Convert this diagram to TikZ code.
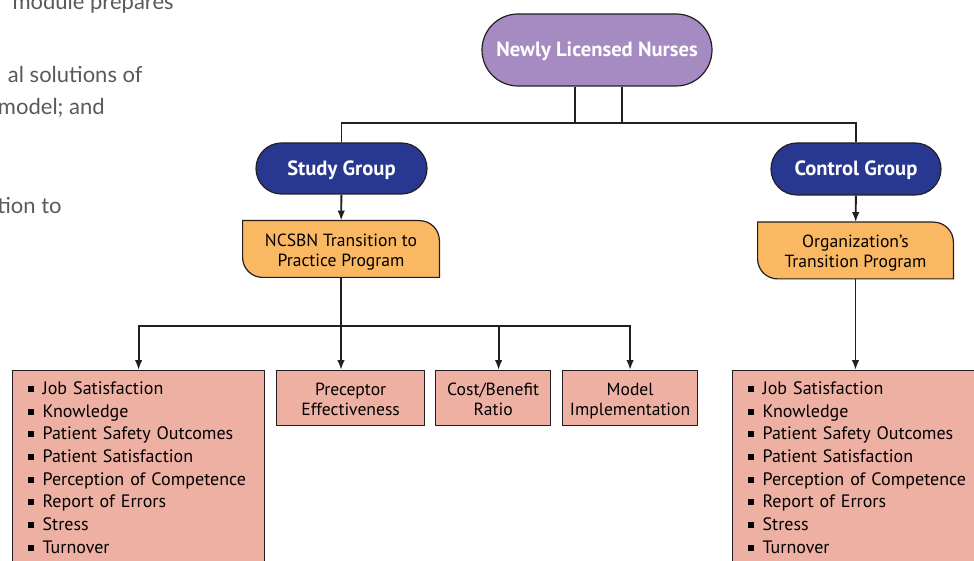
\documentclass[tikz,border=0pt]{standalone}
\usepackage{fontspec}
\setmainfont{PT Sans}
\newfontfamily\pagefont{Lato}
\usetikzlibrary{positioning,arrows.meta,shapes.misc,backgrounds}
\definecolor{tpnewly}{HTML}{A68AC2}
\definecolor{tpgroup}{HTML}{283891}
\definecolor{tpprog}{HTML}{FBB862}
\definecolor{tpout}{HTML}{EDB0A3}
\definecolor{tpline}{HTML}{231F20}
\definecolor{tppage}{HTML}{58595B}
\newcommand{\tpitem}{\rule[1.3pt]{3pt}{3pt}\hspace{4.5pt}}
\newcommand{\tptop}{\rule{0pt}{9.5pt}}
\newcommand{\tpbot}{\rule[-2pt]{0pt}{2pt}}
\newcommand{\tpprogbox}[1]{%
  \filldraw[draw=tpline, fill=tpprog, line width=0.6pt]
    (#1.north west) -- ([xshift=-10pt]#1.north east)
    arc[start angle=90, end angle=0, radius=10pt] -- (#1.south east)
    -- ([xshift=10pt]#1.south west)
    arc[start angle=270, end angle=180, radius=10pt] -- cycle;
}

\begin{document}
\begin{tikzpicture}[x=0.5pt, y=-0.5pt, font=\fontsize{8.8}{10}\selectfont,
  link/.style={draw=tpline, line width=0.95pt},
  arr/.style={link, -{Latex[length=5pt, width=3.8pt]}},
  pill/.style={rounded rectangle, draw=tpline, line width=0.6pt, text=white,
    inner sep=0pt, text depth=0.5pt, font=\fontsize{10.3}{12}\selectfont\bfseries},
  prog/.style={minimum width=98pt, minimum height=28pt, align=center, inner sep=0pt},
  outbox/.style={draw=tpline, fill=tpout, line width=0.6pt, align=center,
    anchor=north west, minimum height=27.5pt, inner sep=0pt},
  listbox/.style={outbox, align=left, text width=111pt, inner xsep=7.5pt,
    inner ysep=5.5pt, font=\fontsize{9}{11.35}\selectfont},
  pagetext/.style={anchor=base east, inner sep=0pt, text=tppage,
    font=\pagefont\fontsize{11}{12}\selectfont}]
  \useasboundingbox (0,0) rectangle (974,561);
  \clip (0,0) rectangle (974,561);
  % page text cut off at the left
  \node[pagetext] (pg1) at (174,10) {module prepares};
  \node[pagetext] (pg2) at (143,83) {al solutions of};
  \node[pagetext] (pg3) at (105,115) {model; and};
  \node[pagetext] (pg4) at (62,214) {tion to};
  % groups
  \node[pill, fill=tpnewly, minimum width=115pt, minimum height=36pt] (newly) at (597,50) {Newly Licensed Nurses};
  \node[pill, fill=tpgroup, minimum width=85.5pt, minimum height=25.5pt] (study) at (341.5,168.5) {Study Group};
  \node[pill, fill=tpgroup, minimum width=85pt, minimum height=26pt] (control) at (856,169) {Control Group};
  % programs
  \node[prog] (ncsbn) at (341,249) {\tptop NCSBN Transition to\\Practice Program\tpbot};
  \node[prog, minimum width=97.5pt] (org) at (855.5,250.5) {\tptop Organization’s\\Transition Program\tpbot};
  \begin{scope}[on background layer]
    \tpprogbox{ncsbn}
    \tpprogbox{org}
  \end{scope}
  % outcomes
  \node[listbox] (lstudy) at (12,370) {\tpitem Job Satisfaction\\\tpitem Knowledge\\\tpitem Patient Safety Outcomes\\\tpitem Patient Satisfaction\\\tpitem Perception of Competence\\\tpitem Report of Errors\\\tpitem Stress\\\tpitem Turnover};
  \node[outbox, minimum width=74pt] (precep) at (276,370) {\tptop Preceptor\\Effectiveness\tpbot};
  \node[outbox, minimum width=57.5pt] (cost) at (435,370) {\tptop Cost/Benefit\\Ratio\tpbot};
  \node[outbox, minimum width=67.5pt] (model) at (562,370) {\tptop Model\\Implementation\tpbot};
  \node[listbox] (lcontrol) at (732,370) {\tpitem Job Satisfaction\\\tpitem Knowledge\\\tpitem Patient Safety Outcomes\\\tpitem Patient Satisfaction\\\tpitem Perception of Competence\\\tpitem Report of Errors\\\tpitem Stress\\\tpitem Turnover};
  % connectors
  \coordinate (bar) at (597,123);
  \coordinate (split) at (342,326);
  \draw[link] ([xshift=-11pt]newly.south) -- ([xshift=-11pt]newly.south |- bar);
  \draw[link] ([xshift=12.5pt]newly.south) -- ([xshift=12.5pt]newly.south |- bar);
  \draw[link] (study.north) -- (study.north |- bar) -- (control.north |- bar) -- (control.north);
  \draw[arr] (study) -- (ncsbn);
  \draw[arr] (control) -- (org);
  \draw[arr] (ncsbn.south) -- (ncsbn.south |- precep.north);
  \draw[arr] (split) -| (lstudy.north);
  \draw[arr] (split) -| ([xshift=2.75pt]cost.north);
  \draw[arr] (split) -| (model.north);
  \draw[arr] (org.south) -- (org.south |- lcontrol.north);
\end{tikzpicture}
\end{document}
